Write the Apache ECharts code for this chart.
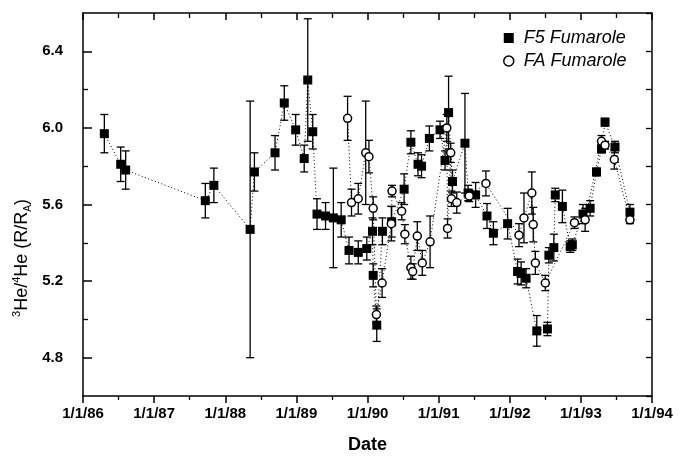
<!DOCTYPE html>
<html>
<head>
<meta charset="utf-8">
<script src="https://cdn.jsdelivr.net/npm/echarts@6/dist/echarts.min.js"></script>
<style>
  html, body { margin: 0; padding: 0; background: #fff; }
  #chart { width: 683px; height: 459px; }
</style>
</head>
<body>
<div id="chart"></div>
<script>
// F5 fumarole (decimal year, 3He/4He, +/- error)
var f5Dates  = [1986.30, 1986.53, 1986.60, 1987.72, 1987.84, 1988.35, 1988.41, 1988.70, 1988.83, 1988.99,
                1989.11, 1989.16, 1989.23, 1989.29, 1989.41, 1989.52, 1989.63, 1989.74, 1989.87, 1989.99,
                1990.07, 1990.08, 1990.13, 1990.21, 1990.34, 1990.515, 1990.61, 1990.71, 1990.76, 1990.87,
                1991.02, 1991.09, 1991.14, 1991.195, 1991.37, 1991.415, 1991.52, 1991.68, 1991.77, 1991.97,
                1992.11, 1992.16, 1992.23, 1992.38, 1992.53, 1992.55, 1992.62, 1992.64, 1992.74, 1992.85,
                1992.88, 1993.03, 1993.13, 1993.22, 1993.29, 1993.34, 1993.48, 1993.69];
var f5Values = [5.97, 5.81, 5.78, 5.62, 5.70, 5.47, 5.77, 5.87, 6.13, 5.99,
                5.84, 6.25, 5.98, 5.55, 5.54, 5.53, 5.52, 5.36, 5.35, 5.37,
                5.46, 5.23, 4.97, 5.46, 5.51, 5.68, 5.925, 5.81, 5.80, 5.945,
                5.99, 5.83, 6.08, 5.72, 5.92, 5.66, 5.65, 5.54, 5.45, 5.50,
                5.25, 5.24, 5.215, 4.94, 4.95, 5.335, 5.375, 5.65, 5.59, 5.38,
                5.39, 5.55, 5.58, 5.77, 5.89, 6.03, 5.90, 5.56];
var f5Errors = [0.10, 0.09, 0.10, 0.09, 0.09, 0.67, 0.10, 0.09, 0.09, 0.08,
                0.07, 0.32, 0.09, 0.08, 0.07, 0.26, 0.09, 0.07, 0.06, 0.06,
                0.07, 0.06, 0.085, 0.07, 0.08, 0.08, 0.06, 0.06, 0.06, 0.065,
                0.045, 0.05, 0.19, 0.06, 0.26, 0.04, 0.065, 0.065, 0.06, 0.08,
                0.065, 0.06, 0.05, 0.08, 0.035, 0.04, 0.07, 0.035, 0.085, 0.03,
                0.03, 0.05, 0.04, 0.02, 0.02, 0.02, 0.03, 0.04];

// FA fumarole
var faDates  = [1989.72, 1989.775, 1989.87, 1989.975, 1990.02, 1990.08, 1990.125, 1990.205, 1990.335, 1990.345,
                1990.48, 1990.525, 1990.61, 1990.635, 1990.70, 1990.77, 1990.88, 1991.115, 1991.125, 1991.17,
                1991.18, 1991.255, 1991.43, 1991.665, 1992.13, 1992.20, 1992.31, 1992.33, 1992.36, 1992.50,
                1992.91, 1993.06, 1993.29, 1993.34, 1993.47, 1993.69];
var faValues = [6.05, 5.61, 5.63, 5.87, 5.85, 5.58, 5.025, 5.19, 5.50, 5.67,
                5.565, 5.445, 5.27, 5.25, 5.435, 5.295, 5.405, 6.00, 5.475, 5.87,
                5.63, 5.61, 5.645, 5.71, 5.44, 5.53, 5.66, 5.495, 5.295, 5.19,
                5.505, 5.52, 5.93, 5.91, 5.835, 5.52];
var faErrors = [0.115, 0.07, 0.08, 0.27, 0.085, 0.06, 0.045, 0.075, 0.09, 0.03,
                0.045, 0.05, 0.06, 0.04, 0.075, 0.065, 0.135, 0.07, 0.05, 0.05,
                0.04, 0.055, 0.03, 0.065, 0.06, 0.13, 0.11, 0.09, 0.06, 0.04,
                0.03, 0.06, 0.03, 0.02, 0.05, 0.02];

var yMajor = [4.8, 5.2, 5.6, 6.0, 6.4];
var yMinor = [5.0, 5.4, 5.8, 6.2];

var FONT = 'Liberation Sans, Arial, Helvetica, sans-serif';

function points(dates, vals) {
  return dates.map(function (d, i) { return [d, vals[i]]; });
}
function bars(dates, vals, errs) {
  return dates.map(function (d, i) { return [d, vals[i] - errs[i], vals[i] + errs[i]]; });
}

function errorBar(params, api) {
  var x = api.value(0);
  var top = api.coord([x, api.value(2)]);
  var bot = api.coord([x, api.value(1)]);
  var w = 4;
  var st = { stroke: '#000', lineWidth: 1.3 };
  return {
    type: 'group',
    children: [
      { type: 'line', shape: { x1: top[0], y1: top[1], x2: bot[0], y2: bot[1] }, style: st },
      { type: 'line', shape: { x1: top[0] - w, y1: top[1], x2: top[0] + w, y2: top[1] }, style: st },
      { type: 'line', shape: { x1: bot[0] - w, y1: bot[1], x2: bot[0] + w, y2: bot[1] }, style: st }
    ]
  };
}

var chart = echarts.init(document.getElementById('chart'));

var yBase = { type: 'value', min: 4.6, max: 6.6, interval: 0.2, scale: true, splitLine: { show: false } };

var option = {
  animation: false,
  backgroundColor: '#fff',
  grid: { left: 83, right: 31, top: 13, bottom: 61 },
  legend: {
    orient: 'vertical',
    left: 498,
    top: 24,
    itemWidth: 10,
    itemHeight: 10,
    itemGap: 5,
    textStyle: { fontFamily: FONT, fontSize: 18, fontStyle: 'italic', color: '#000', padding: [0, 0, 0, 5] },
    data: [
      { name: 'F5 Fumarole', icon: 'rect', itemStyle: { color: '#000' } },
      { name: 'FA Fumarole', icon: 'circle', itemStyle: { color: '#fff', borderColor: '#000', borderWidth: 1.5 } }
    ]
  },
  xAxis: [{
    type: 'value', min: 1986, max: 1994, interval: 1,
    name: 'Date', nameLocation: 'middle', nameGap: 40,
    nameTextStyle: { fontFamily: FONT, fontSize: 18, fontWeight: 'bold', color: '#000' },
    axisLine: { lineStyle: { color: '#000', width: 1.5 } },
    axisTick: { inside: false, length: 7, lineStyle: { color: '#000', width: 1.5 } },
    minorTick: { show: true, splitNumber: 2, length: 4, lineStyle: { color: '#000', width: 1.3 } },
    axisLabel: {
      margin: 10, color: '#000', fontFamily: FONT, fontSize: 15, fontWeight: 'bold',
      formatter: function (v) { return '1/1/' + String(v).slice(2); }
    },
    splitLine: { show: false }
  }, {
    type: 'value', min: 1986, max: 1994, interval: 1, position: 'top',
    axisLine: { lineStyle: { color: '#000', width: 1.5 } },
    axisTick: { inside: true, length: 7, lineStyle: { color: '#000', width: 1.5 } },
    minorTick: { show: true, splitNumber: 2, length: 5, lineStyle: { color: '#000', width: 1.3 } },
    axisLabel: { show: false },
    splitLine: { show: false }
  }],
  yAxis: [
    Object.assign({}, yBase, {
      position: 'left',
      axisLine: { show: true, lineStyle: { color: '#000', width: 1.5 } },
      axisTick: { inside: true, length: 9, customValues: yMajor, lineStyle: { color: '#000', width: 1.5 } },
      axisLabel: {
        margin: 20, color: '#000', fontFamily: FONT, fontSize: 15, fontWeight: 'bold',
        customValues: yMajor,
        formatter: function (v) { return v.toFixed(1); }
      }
    }),
    Object.assign({}, yBase, {
      position: 'left', offset: 0,
      axisLine: { show: false },
      axisTick: { inside: true, length: 5, customValues: yMinor, lineStyle: { color: '#000', width: 1.3 } },
      axisLabel: { show: false }
    }),
    Object.assign({}, yBase, {
      position: 'right', offset: 0,
      axisLine: { show: true, lineStyle: { color: '#000', width: 1.5 } },
      axisTick: { inside: true, length: 6, lineStyle: { color: '#000', width: 1.3 } },
      axisLabel: { show: false }
    })
  ],
  graphic: [{
    type: 'text',
    x: 22, y: 258,
    rotation: Math.PI / 2,
    style: {
      text: '{sup|3}He/{sup|4}He (R/R{sub|A})',
      fill: '#000',
      font: '18px ' + FONT,
      align: 'center',
      verticalAlign: 'middle',
      rich: {
        sup: { fontSize: 11, fontFamily: FONT, verticalAlign: 'top', lineHeight: 22 },
        sub: { fontSize: 10, fontFamily: FONT, verticalAlign: 'bottom', lineHeight: 22 }
      }
    }
  }],
  series: [
    {
      name: 'F5 err', type: 'custom', renderItem: errorBar, z: 1,
      encode: { x: 0, y: [1, 2] },
      data: bars(f5Dates, f5Values, f5Errors)
    },
    {
      name: 'FA err', type: 'custom', renderItem: errorBar, z: 1,
      encode: { x: 0, y: [1, 2] },
      data: bars(faDates, faValues, faErrors)
    },
    {
      name: 'F5 Fumarole', type: 'line', z: 3,
      data: points(f5Dates, f5Values),
      symbol: 'rect', symbolSize: 9, showAllSymbol: true,
      itemStyle: { color: '#000' },
      lineStyle: { color: '#000', width: 1, type: [1, 2.5] }
    },
    {
      name: 'FA Fumarole', type: 'line', z: 4,
      data: points(faDates, faValues),
      symbol: 'circle', symbolSize: 8, showAllSymbol: true,
      itemStyle: { color: '#fff', borderColor: '#000', borderWidth: 1.5 },
      lineStyle: { color: '#000', width: 1, type: [1, 2.5] }
    }
  ]
};

chart.setOption(option);
</script>
</body>
</html>
